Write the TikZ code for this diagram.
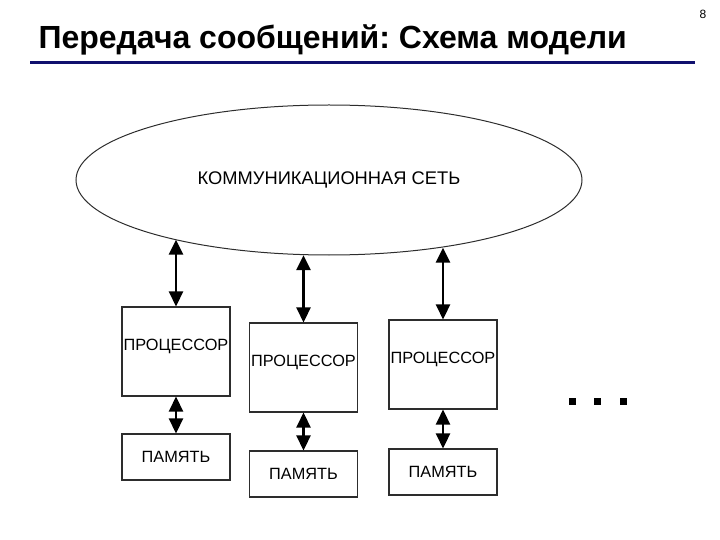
\documentclass[tikz,border=0pt]{standalone}
\usepackage{fontspec}
\setmainfont{Liberation Sans}
\usetikzlibrary{arrows.meta,shapes.geometric}
\definecolor{navyline}{RGB}{16,16,110}
\definecolor{scan}{RGB}{45,45,45}
\frenchspacing

\begin{document}
\begin{tikzpicture}[x=1pt,y=-1pt,
		unit/.style={draw=scan,line width=1.1pt,minimum width=108pt,inner sep=0pt,text=black,font=\fontsize{16.3}{16}\selectfont},
		cpu/.style={unit,minimum height=89pt,text height=8pt,text depth=10pt},
		mem/.style={unit,minimum height=46pt},
		link/.style={line width=2.6pt,{Triangle[length=15pt,width=14pt]}-{Triangle[length=15pt,width=14pt]}}]
	\useasboundingbox (0,0) rectangle (720,540);
	% heading
	\node[anchor=base west,font=\bfseries\fontsize{32}{32}\selectfont] (title) at (35,49) {Передача сообщений: Схема модели};
	\node[font=\fontsize{12}{12}\selectfont] (pagenum) at (703,14) {8};
	\draw[navyline,line width=3pt] (30,63) -- (695,63);
	% network
	\node[draw=scan,line width=1pt,ellipse,minimum width=506pt,minimum height=150pt,inner sep=0pt,font=\fontsize{18.3}{18}\selectfont] (net) at (329,180) {КОММУНИКАЦИОННАЯ СЕТЬ};
	% processors and memories
	\node[cpu] (proc1) at (176,351.5) {ПРОЦЕССОР};
	\node[cpu] (proc2) at (303.5,367.5) {ПРОЦЕССОР};
	\node[cpu] (proc3) at (443,364.5) {ПРОЦЕССОР};
	\node[mem] (mem1) at (176,457) {ПАМЯТЬ};
	\node[mem] (mem2) at (303.5,474) {ПАМЯТЬ};
	\node[mem] (mem3) at (443,472) {ПАМЯТЬ};
	% links
	\draw[link] (proc1.north |- net.201.3) -- (proc1.north);
	\draw[link] (proc2.north |- net.251.1) -- (proc2.north);
	\draw[link] (proc3.north |- net.329.6) -- (proc3.north);
	\draw[link] (proc1.south) -- (mem1.north);
	\draw[link] (proc2.south) -- (mem2.north);
	\draw[link] (proc3.south) -- (mem3.north);
	% more nodes
	\foreach \dx in {572,597,623}
		\fill (\dx-3.5,397.5) rectangle ++(7,7);
\end{tikzpicture}
\end{document}
